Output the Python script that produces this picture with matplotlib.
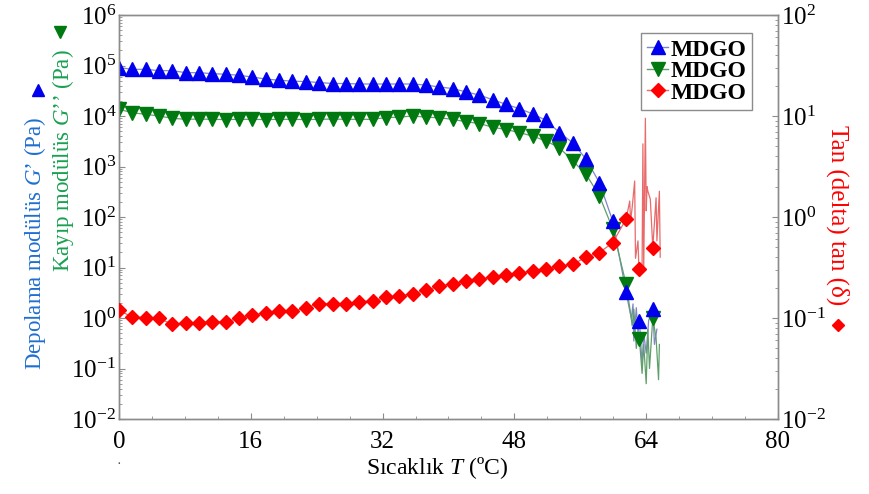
import matplotlib
matplotlib.use("Agg")
import matplotlib.pyplot as plt
from matplotlib.lines import Line2D
from matplotlib.ticker import LogLocator, MultipleLocator, NullFormatter

plt.rcParams['font.family'] = ['Liberation Serif', 'DejaVu Serif']
plt.rcParams['mathtext.fontset'] = 'custom'
plt.rcParams['mathtext.rm'] = 'Liberation Serif'
plt.rcParams['mathtext.it'] = 'Liberation Serif:italic'
plt.rcParams['axes.unicode_minus'] = False

# temperature of the marked points (ºC)
temp = [0.0, 1.62, 3.24, 4.86, 6.48, 8.1, 9.72, 11.34, 12.96, 14.58,
        16.2, 17.82, 19.44, 21.06, 22.68, 24.3, 25.92, 27.54, 29.16, 30.78,
        32.4, 34.02, 35.64, 37.26, 38.88, 40.5, 42.12, 43.74, 45.36, 46.98,
        48.6, 50.22, 51.84, 53.46, 55.08, 56.7, 58.32, 59.94, 61.56, 63.18,
        64.8]

# storage modulus G' (Pa)
g_store = [9.1e4, 8.4e4, 8.4e4, 7.9e4, 7.9e4, 7.2e4, 7.2e4, 6.9e4, 6.7e4,
           6.4e4, 5.9e4, 5.4e4, 5.1e4, 4.9e4, 4.8e4, 4.6e4, 4.4e4, 4.4e4,
           4.3e4, 4.3e4, 4.3e4, 4.3e4, 4.3e4, 4.1e4, 3.75e4, 3.5e4, 3.0e4,
           2.6e4, 2.1e4, 1.7e4, 1.4e4, 1.1e4, 8.2e3, 4.7e3, 2.95e3, 1.4e3,
           480, 83, 3.2, 0.87, 1.5]

# loss modulus G'' (Pa)
g_loss = [1.36e4, 1.16e4, 1.08e4, 1.0e4, 9.0e3, 8.6e3, 8.7e3, 8.6e3, 8.5e3,
          8.6e3, 8.6e3, 8.5e3, 8.6e3, 8.6e3, 8.5e3, 8.6e3, 8.7e3, 8.6e3,
          8.6e3, 8.6e3, 9.3e3, 9.5e3, 1.0e4, 9.5e3, 9.2e3, 8.6e3, 7.7e3,
          7.1e3, 6.0e3, 5.4e3, 4.7e3, 4.0e3, 3.2e3, 2.35e3, 1.3e3, 700,
          263, 58, 4.7, 0.38, 1.0]

# tan(delta)
tan_d = [0.119, 0.102, 0.101, 0.099, 0.0865, 0.090, 0.090, 0.092, 0.092,
         0.099, 0.107, 0.113, 0.117, 0.117, 0.126, 0.139, 0.139, 0.139,
         0.145, 0.147, 0.161, 0.165, 0.174, 0.188, 0.207, 0.219, 0.232,
         0.243, 0.255, 0.267, 0.279, 0.292, 0.305, 0.327, 0.339, 0.402,
         0.444, 0.557, 0.955, 0.303, 0.497]

# noisy raw trace after 61.6 ºC
store_tail_t = [62.0, 62.2, 62.4, 62.5, 62.8, 63.0, 63.18, 63.5, 63.7, 64.0,
                64.3, 64.8, 65.0, 65.3]
store_tail = [1.4, 1.0, 1.9, 0.35, 1.6, 0.5, 0.87, 0.12, 0.5, 0.2,
              0.9, 1.5, 0.3, 0.6]
loss_tail_t = [62.0, 62.3, 62.5, 62.8, 63.0, 63.18, 63.5, 63.7, 64.0, 64.2,
               64.4, 64.8, 65.2, 65.5, 65.6]
loss_tail = [1.6, 0.7, 1.5, 0.25, 0.5, 0.38, 0.08, 0.3, 0.05, 0.6,
             0.1, 1.0, 0.4, 0.06, 0.3]
tan_tail_t = [62.0, 62.1, 62.3, 62.6, 62.7, 63.0, 63.1, 63.18, 63.5, 63.6,
              63.7, 63.9, 64.0, 64.1, 64.2, 64.5, 64.8, 65.2, 65.3, 65.6,
              65.7]
tan_tail = [1.44, 0.9, 1.25, 2.27, 0.39, 0.58, 0.34, 0.303, 0.32, 5.3,
            0.31, 9.5, 1.15, 2.0, 1.8, 1.5, 0.497, 1.55, 0.58, 1.8, 0.4]

c_blue = '#0000ee'
c_green = '#007a10'
c_red = '#ff0000'
c_grey = '#8c8c8c'

fig = plt.figure(figsize=(8.7, 4.94), dpi=100)
ax = fig.add_axes([119 / 870, 1 - 419 / 494, 659 / 870, 404 / 494])
ax2 = ax.twinx()

# thin raw traces
ax.plot(temp[:39] + store_tail_t, g_store[:39] + store_tail,
        color='#7f86c8', lw=0.9, zorder=2)
ax.plot(temp[:39] + loss_tail_t, g_loss[:39] + loss_tail,
        color='#5f9f6a', lw=0.9, zorder=2)
ax2.plot(temp[:39] + tan_tail_t, tan_d[:39] + tan_tail,
         color='#e86a6a', lw=0.9, zorder=2)

# markers
ax.plot(temp, g_store, ls='none', marker='^', ms=10.5, color=c_blue,
        mec=c_blue, zorder=4)
ax.plot(temp, g_loss, ls='none', marker='v', ms=10.5, color=c_green,
        mec=c_green, zorder=3)
ax2.plot(temp, tan_d, ls='none', marker='D', ms=7, color=c_red,
         mec=c_red, zorder=4)

ax.set_xlim(0, 80)
ax.set_yscale('log')
ax.set_ylim(1e-2, 1e6)
ax2.set_yscale('log')
ax2.set_ylim(1e-2, 1e2)

ax.xaxis.set_major_locator(MultipleLocator(16))
ax.xaxis.set_minor_locator(MultipleLocator(4))
ax.yaxis.set_major_locator(LogLocator(base=10, numticks=20))
ax.yaxis.set_minor_locator(LogLocator(base=10, subs=range(2, 10), numticks=20))
ax.yaxis.set_minor_formatter(NullFormatter())
ax2.yaxis.set_major_locator(LogLocator(base=10, numticks=20))
ax2.yaxis.set_minor_locator(LogLocator(base=10, subs=range(2, 10), numticks=20))
ax2.yaxis.set_minor_formatter(NullFormatter())

for a in (ax, ax2):
    for sp in a.spines.values():
        sp.set_color(c_grey)
        sp.set_linewidth(1.0)
    a.tick_params(which='major', direction='in', length=4, color=c_grey,
                  labelsize=18, pad=2)
    a.tick_params(which='minor', direction='in', length=2, color=c_grey)
ax.tick_params(axis='x', pad=9)

# x axis title
fig.text(437 / 870, 1 - 468 / 494, 'Sıcaklık $\\mathit{T}$ (ºC)',
         ha='center', va='center', fontsize=17)

# y axis titles with their marker symbols
fig.text(35 / 870, 1 - 243 / 494, 'Depolama modülüs $\\mathit{G}$’ (Pa)',
         rotation=90, ha='center', va='center', fontsize=16.5,
         color='#1e6fd0')
fig.text(63 / 870, 1 - 161 / 494, 'Kayıp modülüs $\\mathit{G}$’’ (Pa)',
         rotation=90, ha='center', va='center', fontsize=16.5,
         color='#18a050')
fig.text(838 / 870, 1 - 215 / 494, 'Tan (delta) tan (δ)',
         rotation=270, ha='center', va='center', fontsize=18, color=c_red)
fig.add_artist(Line2D([38 / 870], [1 - 90 / 494], marker='^', ms=9,
                      color=c_blue, transform=fig.transFigure))
fig.add_artist(Line2D([60 / 870], [1 - 32 / 494], marker='v', ms=9,
                      color=c_green, transform=fig.transFigure))
fig.add_artist(Line2D([838 / 870], [1 - 325 / 494], marker='D', ms=6,
                      color=c_red, transform=fig.transFigure))
fig.text(119 / 870, 1 - 465 / 494, '·', ha='center', va='center',
         fontsize=10, color='#444444')

handles = [Line2D([], [], color='#7f86c8', marker='^', ms=10, mfc=c_blue,
                  mec=c_blue, lw=1),
           Line2D([], [], color='#5f9f6a', marker='v', ms=10, mfc=c_green,
                  mec=c_green, lw=1),
           Line2D([], [], color='#e86a6a', marker='D', ms=7, mfc=c_red,
                  mec=c_red, lw=1)]
leg = ax2.legend(handles, ['MDGO', 'MDGO', 'MDGO'], loc='upper right',
                 bbox_to_anchor=(0.961, 0.955), fancybox=False,
                 edgecolor=c_grey, framealpha=1, handlelength=0.9,
                 handletextpad=0.1, labelspacing=0.0, borderpad=0.25,
                 borderaxespad=0, prop={'weight': 'bold', 'size': 17})
leg.get_frame().set_linewidth(1.0)

fig.savefig('out.png', dpi=100)
